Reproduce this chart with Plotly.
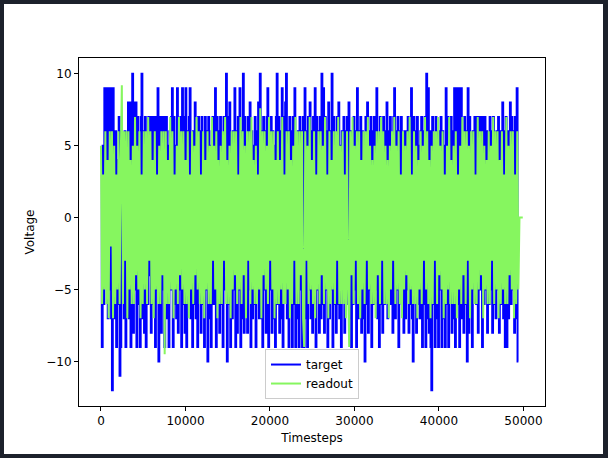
import plotly.graph_objects as go

# Target: piecewise-constant voltage, one value per 100-timestep segment
SEG = 100
target_values = [
    3, -9, 5, -6, 9, -4, 9, 6, -7, 9, -5, 9, -7, -12, 9, 5, -7, 6, -9, 4,
    -6, 7, -11, -9, 6, -5, 4, -7, 6, -9, 5, -6, 8, -7, 8, -9, 7, 10, -8, 8,
    -5, 8, -9, 7, -6, 5, -9, 7, 10, -7, 6, -8, 7, -9, 5, -6, 7, -4, 7, -8,
    7, -6, 7, 6, -9, 7, -5, 9, -10, 7, 6, -8, 7, -5, 7, -9, 6, 7, -7, 5,
    -9, 6, -5, 7, 9, -9, 7, -6, 5, -7, 9, -8, 6, -5, 7, -9, 9, -6, 7, -8,
    9, -9, 6, -5, 7, 9, -7, 5, -9, 6, -6, 8, -7, 5, -9, 7, -5, 6, -8, 7,
    -6, 5, -9, 7, -5, 6, -10, 7, -7, 5, -9, 6, 7, -6, 5, 9, -9, 7, -5, 6,
    -8, 7, -6, 5, -9, 7, -5, 6, 10, -10, 7, -6, 8, -9, 5, -7, 6, -5, 9, -9,
    6, -8, 7, -5, 9, -9, 6, -7, 10, -8, 7, -6, 5, -8, 7, -5, 8, -9, 6, -7,
    5, -6, 7, -9, 6, -5, 8, -7, 10, -7, 6, -9, 7, -5, 6, -8, 7, 9, -9, 6,
    -5, 7, -8, 6, -7, 5, -9, 7, 10, -6, 7, -8, 6, -7, 9, -9, 7, -5, 8, 10,
    -7, 6, -9, 7, -5, 6, -9, 7, -6, 9, -9, 5, -7, 6, -9, 7, -5, 6, -9, 7,
    -9, 9, -7, 6, -9, 7, -5, 8, -7, 6, -8, 7, -6, 9, -9, 7, -5, 6, -8, 7,
    -7, 10, -6, 9, -8, 7, -5, 6, -9, 8, -7, 6, -5, 10, -9, 7, -6, 5, -8, 7,
    -6, 8, -7, 5, -9, 6, -5, 7, -8, 6, -6, 7, -5, 8, -7, 6, -9, 5, -6, 7,
    -5, 6, -9, 9, -7, 6, -5, 7, -8, 6, -7, 5, -10, 7, -6, 8, -8, 6, -5, 7,
    -9, 6, -6, 7, -5, 6, 9, -7, 5, -9, 7, -6, 5, -8, 7, -6, 6, -5, 8, -7,
    6, -5, 7, -6, 5, -8, 7, 9, -7, 6, -5, 7, -9, 6, -5, 7, -6, 5, -8, 6,
    -7, 6, -5, 7, -8, 6, -6, 9, -7, -10, 7, -5, 6, -8, 7, -6, 5, -7, 6, 7,
    -9, 6, -6, 7, -9, 10, -7, 9, -8, 6, -9, -12, 7, -6, 5, -9, 7, -7, 6, -9,
    6, -5, 7, -9, 6, -7, 5, -9, 9, -6, 7, -9, 6, -5, 7, -8, 6, -7, 9, -9,
    9, -6, 7, 9, -9, 6, 9, -7, 5, -8, 7, -6, 6, -10, 9, -8, 7, -6, 5, -9,
    6, -5, 7, 7, -6, 7, -8, 7, 6, -5, 7, -9, 7, -6, 7, -5, 6, -8, 5, -6,
    7, -5, 6, -8, 7, -6, 5, -7, 6, -5, 7, -8, 6, -6, 5, 8, -7, 6, -9, 7,
    -9, 6, -7, 5, 8, -6, 7, -5, 6, -8, 7, -7, 9, -10,
]

# Readout: sampled every 130 timesteps
STEP = 130
readout_values = [
    5, -6, 3, -5, 6, -6, 4, -7, 6, -2, 6, -7, 5, -6, 3, -5, 6, -6, 4, 9.2,
    -6, 6, -3, 6, -7, 6, -5, 4, -6, 5, -6, 7, -4, 5, -5, 6, -7, 3, -6, 6,
    -5, 6, -6, 7, -3, 6, -6, 4, -7, 6, -5, 3, -6, 5, -6, 6, -4, 6, -9.5, 6,
    -6, 4, -6, 7, -5, 6, -7, 3, -5, 5, -6, 7, -4, 6, -5, 6, -6, 4, -6, 6,
    -7, 3, -5, 6, -6, 5, -4, 7, -5, 6, -6, 3, -6, 6, -7, 4, -5, 6, -6, 5,
    -6, 7, -3, 5, -5, 6, -7, 4, -6, 5, -6, 6, -3, 7, -6, 4, -6, 5, -7, 6,
    -5, 6, -4, 6, -6, 3, -5, 7, -6, 6, -4, 5, -7, 6, -3, 6, -6, 7, -5, 4,
    -6, 5, -6, 3, -5, 7.6, -7, 6, -4, 6, -5, 5, -6, 7, -3, 6, -5, 6, -7, 4,
    -6, 6, -6, 4, -5, 7, -6, 3, -6, 6, -5, 6, -7, 4, -6, 5, -3, 7, -6, 6,
    -6, 6, -4, 6, -7, -9, 6, -3, 5, -6, 7, -5, 4, -6, 6, -7, 3, -5, 6, -6,
    6, -4, 5, -6, 7, -5, 3, -7, 6, -6, 4, -5, 6, -6, 6, -3, 7, -6, 5, -6,
    6, -6, 3, -7, 6, -5, -9, 6, -4, 7, -6, 5, -3, 6, -6, 6, -7, 4, -5, 6,
    -6, 6, -3, 7, -5, 5, -6, 4, -6, 5, -7, 6, -4, 6, -6, 7, -3, 6, -6, 5,
    -6, 4, -7, 5, -5, 6, -3, 7, -6, 5, -5, 6, -6, 3, -7, 6, -5, 5, -4, 6,
    -6, 7, -5, 3, -6, 6, -6, 5, -7, 4, -5, 6, -6, 5, -3, 7, -5, 6, -6, 4,
    -7, 5, -6, 6, -3, 6, -6, 7, -4, 5, -5, 6, -7, 3, -6, 5, -5, 7, -6, 4,
    -6, 5, -6, 6, -7, 3, -5, 5, -6, 7, -4, 6, -6, 6, -3, 5, -7, 6, -5, 6,
    -6, 3, -6, 7, -5, 6, -4, 6, -7, 5, -5, 4, -6, 6, -6, 5, -3, 7, -6, 6,
    -5, 6, -7, 4, -6, 6, -5, 3, -6, 7, -6, 5, -4, 6, -5, 6, -7, 3, -6, 6,
    -5, 0, 0, 0, 0,
]

x_ticks = [0, 10000, 20000, 30000, 40000, 50000]
x_tick_labels = ["0", "10000", "20000", "30000", "40000", "50000"]
y_ticks = [-10, -5, 0, 5, 10]
y_tick_labels = ["\u221210", "\u22125", "0", "5", "10"]

target_x = [i * SEG for i in range(len(target_values))] + [len(target_values) * SEG]
target_y = target_values + [target_values[-1]]
readout_x = [i * STEP for i in range(len(readout_values))]

fig = go.Figure()
fig.add_trace(go.Scatter(x=target_x, y=target_y, mode="lines", name="target",
                         line=dict(color="#0000ff", width=2, shape="hv", simplify=False)))
fig.add_trace(go.Scatter(x=readout_x, y=readout_values, mode="lines", name="readout",
                         line=dict(color="#86f65f", width=2, simplify=False)))

font = dict(family="DejaVu Sans", size=12, color="#000000")
fig.update_layout(
    width=608, height=458,
    margin=dict(l=79, r=63, t=58, b=52),
    paper_bgcolor="#1c212b",
    plot_bgcolor="#ffffff",
    font=font,
    showlegend=True,
    legend=dict(x=0.5, y=0.02, xanchor="center", yanchor="bottom",
                bgcolor="rgba(255,255,255,0.85)", bordercolor="#cccccc", borderwidth=1,
                font=dict(family="DejaVu Sans", size=12, color="#000000"),
                tracegroupgap=2),
    shapes=[dict(type="rect", xref="paper", yref="paper",
                 x0=-75/466, x1=(603-79)/466, y0=-(454-406)/348, y1=(406-4)/348,
                 fillcolor="#ffffff", line=dict(width=0), layer="below")],
)
fig.update_xaxes(range=[-2600, 52550], tickvals=x_ticks, ticktext=x_tick_labels,
                 ticks="outside", ticklen=4,
                 tickcolor="#000", showline=True, linecolor="#000", linewidth=1, mirror=True,
                 showgrid=False, zeroline=False,
                 title=dict(text="Timesteps", standoff=6, font=font))
fig.update_yaxes(range=[-13.1, 11.1], tickvals=y_ticks, ticktext=y_tick_labels,
                 ticks="outside", ticklen=4,
                 tickcolor="#000", showline=True, linecolor="#000", linewidth=1, mirror=True,
                 showgrid=False, zeroline=False,
                 title=dict(text="Voltage", standoff=9, font=font))

fig.write_html(
    "out.html",
    config={"displayModeBar": False},
    post_script="document.body.style.margin='0';document.body.style.background='#1c212b';"
                "document.documentElement.style.overflow='hidden';",
)
